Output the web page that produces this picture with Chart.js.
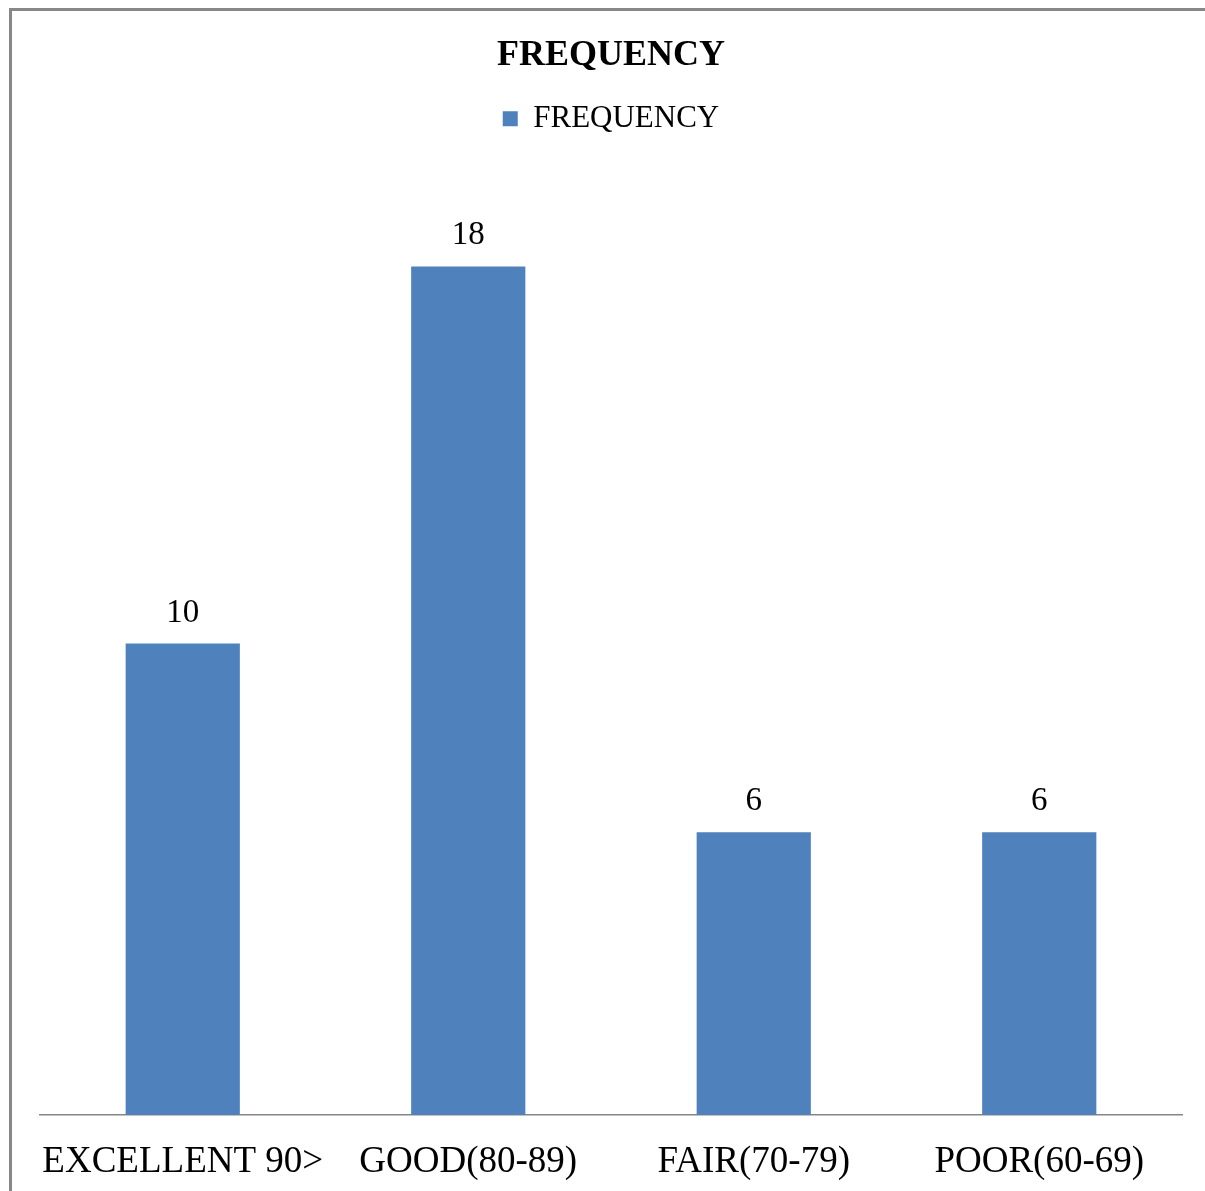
<!DOCTYPE html>
<html>
<head>
<meta charset="utf-8">
<title>FREQUENCY</title>
<script src="https://cdn.jsdelivr.net/npm/chart.js@4/dist/chart.umd.min.js"></script>
<style>
  html, body { margin: 0; padding: 0; background: #ffffff; overflow: hidden; }
  #wrap { position: relative; width: 1205px; height: 1191px; }
  #frame {
    position: absolute; left: 9px; top: 8px; width: 1400px; height: 1400px;
    border-left: 3px solid #878787; border-top: 3px solid #878787;
    box-sizing: border-box;
  }
  canvas { position: absolute; left: 0; top: 0; }
</style>
</head>
<body>
<div id="wrap">
  <div id="frame"></div>
  <canvas id="chart" width="1205" height="1191"></canvas>
</div>
<script>
// Grade bands and how many students fell in each
const categories = ["EXCELLENT 90>", "GOOD(80-89)", "FAIR(70-79)", "POOR(60-69)"];
const frequency = [10, 18, 6, 6];
const seriesName = "FREQUENCY";
const chartTitle = "FREQUENCY";

const SERIF = "'Liberation Serif', 'Times New Roman', serif";
const BAR_BLUE = "#4F81BD";

// Writes each bar's value just above its top edge
const valueLabels = {
  id: "valueLabels",
  afterDatasetsDraw(chart) {
    const ctx = chart.ctx;
    ctx.save();
    ctx.font = "33px " + SERIF;
    ctx.fillStyle = "#000000";
    ctx.textAlign = "center";
    ctx.textBaseline = "alphabetic";
    chart.data.datasets.forEach((ds, di) => {
      chart.getDatasetMeta(di).data.forEach((bar, i) => {
        ctx.fillText(String(ds.data[i]), bar.x, bar.y - 22);
      });
    });
    ctx.restore();
  }
};

new Chart(document.getElementById("chart"), {
  type: "bar",
  data: {
    labels: categories,
    datasets: [{
      label: seriesName,
      data: frequency,
      backgroundColor: BAR_BLUE,
      borderWidth: 0,
      categoryPercentage: 1.0,
      barPercentage: 0.4
    }]
  },
  options: {
    responsive: false,
    animation: false,
    devicePixelRatio: 1,
    layout: { padding: { left: 40, right: 23, top: 34, bottom: 10 } },
    plugins: {
      title: {
        display: true,
        text: chartTitle,
        color: "#000000",
        font: { family: SERIF, size: 36, weight: "bold", lineHeight: 1.2 },
        padding: { top: 0, bottom: 16 }
      },
      legend: {
        display: true,
        position: "top",
        labels: {
          color: "#000000",
          font: { family: SERIF, size: 31 },
          boxWidth: 15,
          boxHeight: 15,
          padding: 10
        }
      },
      tooltip: { enabled: false }
    },
    scales: {
      x: {
        grid: { display: false, drawTicks: false },
        border: { display: true, color: "#868686", width: 1.5 },
        ticks: {
          color: "#000000",
          font: { family: SERIF, size: 37 },
          padding: 25,
          maxRotation: 0,
          autoSkip: false
        },
        afterFit(scale) { scale.height = 66; }
      },
      // empty band between the legend and the plot
      xGap: {
        type: "category",
        position: "top",
        grid: { display: false, drawTicks: false },
        border: { display: false },
        ticks: { display: false },
        afterFit(scale) { scale.height = 28; }
      },
      y: {
        display: false,
        min: 0,
        max: 20
      }
    }
  },
  plugins: [valueLabels]
});
</script>
</body>
</html>
